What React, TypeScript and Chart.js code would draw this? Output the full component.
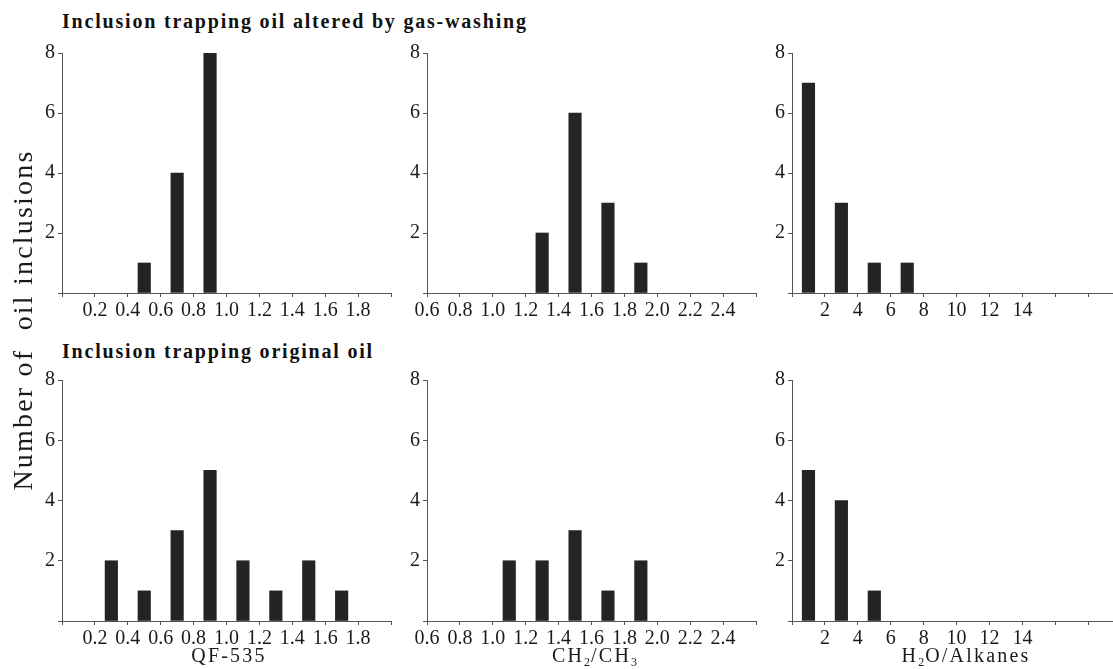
import React, { useEffect, useRef } from 'react';
import { Chart, registerables } from 'chart.js';

Chart.register(...registerables);

// ---------- data ----------
const yTickValues = [0, 2, 4, 6, 8];
const yTickLabels = ['', '2', '4', '6', '8'];

const qfTickValues = [0, 0.2, 0.4, 0.6, 0.8, 1.0, 1.2, 1.4, 1.6, 1.8, 2.0];
const qfTickLabels = ['', '0.2', '0.4', '0.6', '0.8', '1.0', '1.2', '1.4', '1.6', '1.8', ''];

const chTickValues = [0.6, 0.8, 1.0, 1.2, 1.4, 1.6, 1.8, 2.0, 2.2, 2.4, 2.6];
const chTickLabels = ['0.6', '0.8', '1.0', '1.2', '1.4', '1.6', '1.8', '2.0', '2.2', '2.4', ''];

const h2oTickValues = [0, 2, 4, 6, 8, 10, 12, 14, 16, 18];
const h2oTickLabels = ['', '2', '4', '6', '8', '10', '12', '14', '', ''];

// Inclusion trapping oil altered by gas-washing
const gasQfBins = [0.5, 0.7, 0.9];
const gasQfCounts = [1, 4, 8];
const gasChBins = [1.3, 1.5, 1.7, 1.9];
const gasChCounts = [2, 6, 3, 1];
const gasH2oBins = [1, 3, 5, 7];
const gasH2oCounts = [7, 3, 1, 1];

// Inclusion trapping original oil
const origQfBins = [0.3, 0.5, 0.7, 0.9, 1.1, 1.3, 1.5, 1.7];
const origQfCounts = [2, 1, 3, 5, 2, 1, 2, 1];
const origChBins = [1.1, 1.3, 1.5, 1.7, 1.9];
const origChCounts = [2, 2, 3, 1, 2];
const origH2oBins = [1, 3, 5];
const origH2oCounts = [5, 4, 1];

// ---------- styling / layout ----------
const YW = 45; // y-axis area width
const XH = 40; // x-axis area height
const PT = 14; // top padding
const AXIS = '#555555';
const BAR = '#242424';
const SERIF = '"Liberation Serif", "Times New Roman", serif';
const TICK_SIZE = 20;

type PanelProps = {
  left: number;
  top: number;
  w: number;
  h: number;
  padRight: number;
  xMin: number;
  xMax: number;
  bins: number[];
  counts: number[];
  tickValues: number[];
  tickLabels: string[];
};

function Panel(p: PanelProps) {
  const ref = useRef<HTMLCanvasElement>(null);
  const W = YW + p.w + p.padRight;
  const H = PT + p.h + XH;
  useEffect(() => {
    const chart = new Chart(ref.current as HTMLCanvasElement, {
      type: 'bar',
      data: {
        datasets: [
          {
            data: p.bins.map((x, i) => ({ x, y: p.counts[i] })),
            backgroundColor: BAR,
            borderWidth: 0,
            barThickness: 12.5,
          } as any,
        ],
      },
      options: {
        animation: false,
        responsive: false,
        events: [],
        layout: { padding: { top: PT, right: p.padRight, left: 0, bottom: 0 } },
        plugins: { legend: { display: false }, tooltip: { enabled: false }, title: { display: false } },
        scales: {
          x: {
            type: 'linear',
            min: p.xMin,
            max: p.xMax,
            offset: false,
            afterFit: (s: any) => {
              s.height = XH;
            },
            afterBuildTicks: (s: any) => {
              s.ticks = p.tickValues.map((v) => ({ value: v }));
            },
            grid: {
              display: true,
              offset: false,
              drawOnChartArea: false,
              drawTicks: true,
              tickLength: 4,
              color: AXIS,
              lineWidth: 1,
            },
            border: { display: true, color: AXIS, width: 1 },
            ticks: {
              autoSkip: false,
              maxRotation: 0,
              padding: 2,
              color: '#1a1a1a',
              font: { family: SERIF, size: TICK_SIZE },
              callback: (_v: any, i: number) => p.tickLabels[i],
            },
          } as any,
          y: {
            type: 'linear',
            min: 0,
            max: 8,
            afterFit: (s: any) => {
              s.width = YW;
            },
            afterBuildTicks: (s: any) => {
              s.ticks = yTickValues.map((v) => ({ value: v }));
            },
            grid: {
              display: true,
              drawOnChartArea: false,
              drawTicks: true,
              tickLength: 4,
              color: AXIS,
              lineWidth: 1,
            },
            border: { display: true, color: AXIS, width: 1 },
            ticks: {
              autoSkip: false,
              padding: 3,
              color: '#1a1a1a',
              font: { family: SERIF, size: TICK_SIZE },
              callback: (_v: any, i: number) => yTickLabels[i],
            },
          } as any,
        },
      },
    });
    return () => chart.destroy();
  }, []);
  return (
    <canvas
      ref={ref}
      width={W}
      height={H}
      style={{ position: 'absolute', left: p.left - YW, top: p.top - PT, width: W, height: H }}
    />
  );
}

const titleStyle: React.CSSProperties = {
  position: 'absolute',
  fontFamily: SERIF,
  fontWeight: 'bold',
  fontSize: 20,
  lineHeight: '20px',
  letterSpacing: '1.8px',
  color: '#111',
  whiteSpace: 'nowrap',
};

const xTitleStyle: React.CSSProperties = {
  position: 'absolute',
  fontFamily: SERIF,
  fontSize: 20,
  lineHeight: '20px',
  letterSpacing: '2.2px',
  color: '#1a1a1a',
  whiteSpace: 'nowrap',
  transform: 'translateX(-50%)',
};

const subStyle: React.CSSProperties = { fontSize: 12, verticalAlign: '-4px', lineHeight: 0, letterSpacing: '1px' };

export default function App() {
  const col = [
    { left: 62, w: 329, padRight: 15, xMin: 0, xMax: 2.0, tv: qfTickValues, tl: qfTickLabels },
    { left: 427, w: 329, padRight: 15, xMin: 0.6, xMax: 2.6, tv: chTickValues, tl: chTickLabels },
    { left: 792, w: 321, padRight: 0, xMin: 0, xMax: 19.5, tv: h2oTickValues, tl: h2oTickLabels },
  ];
  const rows = [
    { top: 52, h: 241, sets: [[gasQfBins, gasQfCounts], [gasChBins, gasChCounts], [gasH2oBins, gasH2oCounts]] },
    { top: 379, h: 242, sets: [[origQfBins, origQfCounts], [origChBins, origChCounts], [origH2oBins, origH2oCounts]] },
  ];
  return (
    <div
      style={{
        position: 'absolute',
        left: 0,
        top: 0,
        width: 1113,
        height: 669,
        overflow: 'hidden',
        background: '#ffffff',
      }}
    >
      {rows.map((r, ri) =>
        col.map((c, ci) => (
          <Panel
            key={ri + '-' + ci}
            left={c.left}
            top={r.top}
            w={c.w}
            h={r.h}
            padRight={c.padRight}
            xMin={c.xMin}
            xMax={c.xMax}
            bins={r.sets[ci][0]}
            counts={r.sets[ci][1]}
            tickValues={c.tv}
            tickLabels={c.tl}
          />
        ))
      )}
      <div style={{ ...titleStyle, left: 62, top: 11 }}>Inclusion trapping oil altered by gas-washing</div>
      <div style={{ ...titleStyle, left: 62, top: 341 }}>Inclusion trapping original oil</div>

      <div
        style={{
          position: 'absolute',
          left: 22.6,
          top: 320,
          width: 420,
          textAlign: 'center',
          fontFamily: SERIF,
          fontSize: 28,
          lineHeight: '28px',
          letterSpacing: '2.2px',
          color: '#1a1a1a',
          whiteSpace: 'pre',
          transform: 'translate(-50%, -50%) rotate(-90deg)',
        }}
      >
        {'Number of  oil inclusions'}
      </div>

      <div style={{ ...xTitleStyle, left: 229, top: 645 }}>QF-535</div>
      <div style={{ ...xTitleStyle, left: 595, top: 645 }}>
        CH<span style={subStyle}>2</span>/CH<span style={subStyle}>3</span>
      </div>
      <div style={{ ...xTitleStyle, left: 966, top: 645 }}>
        H<span style={subStyle}>2</span>O/Alkanes
      </div>
    </div>
  );
}
